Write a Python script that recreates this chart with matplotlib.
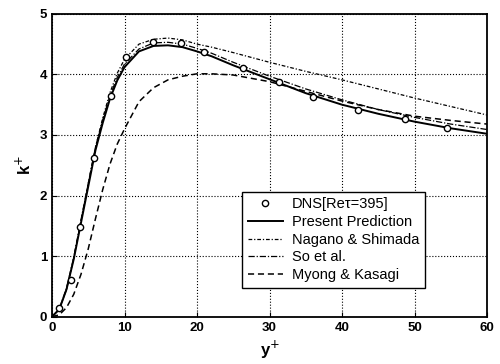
import numpy as np
import matplotlib.pyplot as plt

plt.rcParams['font.family'] = ['Liberation Sans', 'DejaVu Sans']

# DNS data (Re_tau = 395)
dns_y = [1.0, 2.6, 3.9, 5.8, 8.1, 10.2, 13.9, 17.8, 21.0, 26.4, 31.3, 36.0, 42.2, 48.7, 54.5]
dns_k = [0.14, 0.61, 1.48, 2.62, 3.65, 4.28, 4.53, 4.52, 4.37, 4.10, 3.88, 3.62, 3.42, 3.26, 3.11]

# model curves
yp = [0, 1, 2, 3, 4, 5, 6, 7, 8, 9, 10, 12, 14, 16, 18, 20, 22, 25, 30, 35, 40, 45, 50, 55, 60]
present = [0, 0.12, 0.45, 0.95, 1.55, 2.15, 2.75, 3.2, 3.6, 3.9, 4.12, 4.38, 4.47, 4.48, 4.45,
           4.38, 4.30, 4.15, 3.92, 3.69, 3.50, 3.35, 3.22, 3.11, 3.02]
nagano = [0, 0.12, 0.45, 0.97, 1.58, 2.2, 2.8, 3.28, 3.7, 4.02, 4.25, 4.5, 4.58, 4.6, 4.57,
          4.5, 4.45, 4.36, 4.2, 4.05, 3.91, 3.76, 3.61, 3.47, 3.33]
so = [0, 0.13, 0.47, 0.98, 1.6, 2.2, 2.8, 3.25, 3.65, 3.95, 4.17, 4.42, 4.52, 4.53, 4.5,
      4.43, 4.35, 4.2, 3.97, 3.76, 3.58, 3.42, 3.29, 3.18, 3.09]
myong = [0, 0.03, 0.15, 0.37, 0.7, 1.12, 1.62, 2.1, 2.52, 2.85, 3.1, 3.55, 3.78, 3.91, 3.97,
         4.01, 4.01, 3.99, 3.88, 3.72, 3.56, 3.42, 3.31, 3.24, 3.18]

fig = plt.figure(figsize=(5, 3.64), dpi=100)
ax = fig.add_axes([0.104, 0.13, 0.87, 0.832])

ax.plot(dns_y, dns_k, 'o', mfc='white', mec='black', ms=4.5, mew=1, label='DNS[Re\u03c4=395]', zorder=5)
ax.plot(yp, present, '-', color='black', lw=1.4, label='Present Prediction')
ax.plot(yp, nagano, color='black', lw=0.9, dashes=[3, 1.5, 1, 1.5], label='Nagano & Shimada')
ax.plot(yp, so, color='black', lw=0.9, dashes=[5, 1.5, 1, 1.5], label='So et al.')
ax.plot(yp, myong, color='black', lw=1.1, dashes=[4, 2.5], label='Myong & Kasagi')

ax.set_xlim(0, 60)
ax.set_ylim(0, 5)
ax.set_xticks(range(0, 61, 10))
ax.set_yticks(range(0, 6))
ax.grid(True, linestyle=':', color='black', lw=0.8)
ax.tick_params(direction='in', labelsize=9.5)
for lab in ax.get_xticklabels() + ax.get_yticklabels():
    lab.set_fontweight('bold')
for s in ax.spines.values():
    s.set_linewidth(1.3)

ax.set_xlabel('y$^{+}$', fontsize=12, fontweight='bold')
ax.set_ylabel('k$^{+}$', fontsize=12, fontweight='bold')

leg = ax.legend(loc='lower right', bbox_to_anchor=(0.857, 0.095), fontsize=10.5, fancybox=False,
                edgecolor='black', framealpha=1, handlelength=2.4, handletextpad=0.6,
                borderpad=0.4, borderaxespad=0, labelspacing=0.25)
leg.get_frame().set_linewidth(1.0)

fig.savefig('out.png', dpi=100)
